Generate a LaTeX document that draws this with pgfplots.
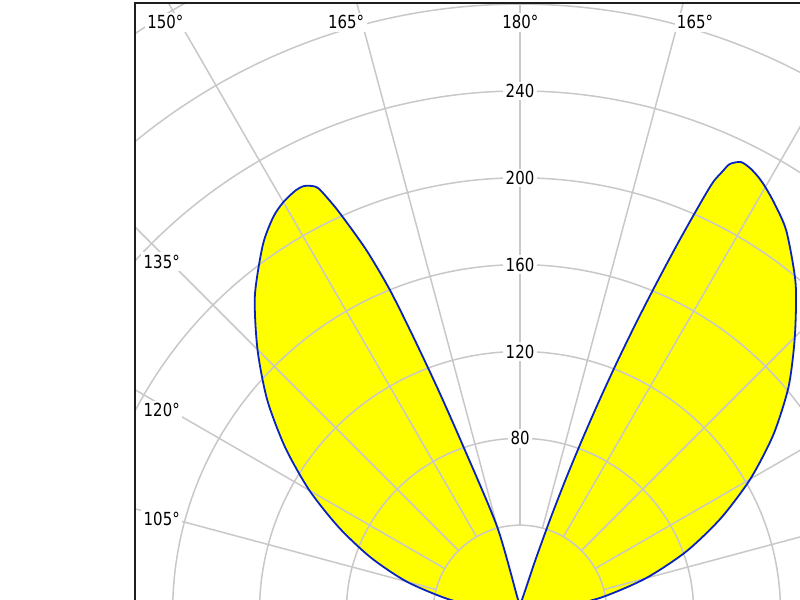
\documentclass[border=0pt]{standalone}
\usepackage{fontspec}
\setmainfont{DejaVu Sans}[FakeStretch=0.83]
\usepackage{pgfplots}
\usepackage{pgfplotstable}
\pgfplotsset{compat=1.18}
\definecolor{lobe}{RGB}{255,255,0}
\definecolor{lobeline}{RGB}{10,35,190}
\definecolor{gridc}{RGB}{200,200,200}
\definecolor{framec}{RGB}{30,30,30}

% gamma (deg, 180 = up), intensity
\pgfplotstableread{
g I
180 3.2
170.5 6
165 40.5
161.1 80.5
159.8 109
158.8 136
158 160
157 181.1
155.7 201.5
155.0 211
154.55 216.2
154.05 218.2
153.1 220
152 220
150 218
148 214.5
145 206.5
140 190
135 171
130 152
125 132
120 112
115 92
110 73
105 54
100 33
95 12
90 4
85 1
}\leftlobe

\pgfplotstableread{
g I
85 1
90 5
95 15
100 37.5
105 60
110 81.5
115 102
120 122.5
125 142.5
130 161.5
135 179
140 197.5
145 214
148 221.5
150 226
151.3 228.5
152.6 230.3
153.84 230.9
154.9 227.9
155.3 223.5
155.8 217.3
156.14 207.5
156.78 186.4
157.41 165.6
158.07 145.0
158.75 124.5
159.44 104.3
160.18 84.2
161.02 64.3
162.0 44.6
163.5 25.0
168 8
180 3.2
}\rightlobe

\begin{document}
\begin{tikzpicture}
\tikzset{lab/.style={fill=white, inner sep=1.2pt, text=black, font=\fontsize{9}{10}\selectfont}}
\begin{axis}[name=ax, at={(0,0)}, anchor=south west, scale only axis,
  width=332.5pt, height=298.5pt,
  xmin=-177.34, xmax=128.97, ymin=5.527, ymax=280.52,
  hide axis, clip=true]
\addplot[fill=lobe, draw=none, data cs=polar, smooth, tension=0.45] table[x expr={270-\thisrow{g}}, y=I] \leftlobe;
\addplot[fill=lobe, draw=none, data cs=polar, smooth, tension=0.45] table[x expr={\thisrow{g}-90}, y=I] \rightlobe;
\pgfplotsinvokeforeach{40,80,...,400}{
  \draw[gridc, line width=0.75pt] (axis cs:0,0) circle[radius=#1];
}
\pgfplotsinvokeforeach{0,15,...,345}{
  \draw[gridc, line width=0.75pt] (axis cs:{40*cos(#1)},{40*sin(#1)}) -- (axis cs:{500*cos(#1)},{500*sin(#1)});
}
\addplot[draw=lobeline, line width=0.9pt, data cs=polar, smooth, tension=0.45] table[x expr={270-\thisrow{g}}, y=I] \leftlobe;
\addplot[draw=lobeline, line width=0.9pt, data cs=polar, smooth, tension=0.45] table[x expr={\thisrow{g}-90}, y=I] \rightlobe;
\pgfplotsinvokeforeach{80,120,...,240}{
  \node[lab] at (axis cs:0,#1) {#1};
}
\node[lab] at (axis cs:-163.3,271.6) {150°};
\node[lab] at (axis cs:-80.1,271.6) {165°};
\node[lab] at (axis cs:0.2,271.6) {180°};
\node[lab] at (axis cs:80.6,271.6) {165°};
\node[lab, anchor=west] at (axis cs:-174.6,161.4) {135°};
\node[lab, anchor=west] at (axis cs:-174.6,93.0) {120°};
\node[lab, anchor=west] at (axis cs:-174.6,42.7) {105°};
\end{axis}
\draw[framec, line width=1pt] (ax.south west) -- (ax.north west) -- (ax.north east);
\pgfresetboundingbox
\path[use as bounding box] (-67.5pt,0) rectangle (332.5pt,300pt);
\end{tikzpicture}
\end{document}
